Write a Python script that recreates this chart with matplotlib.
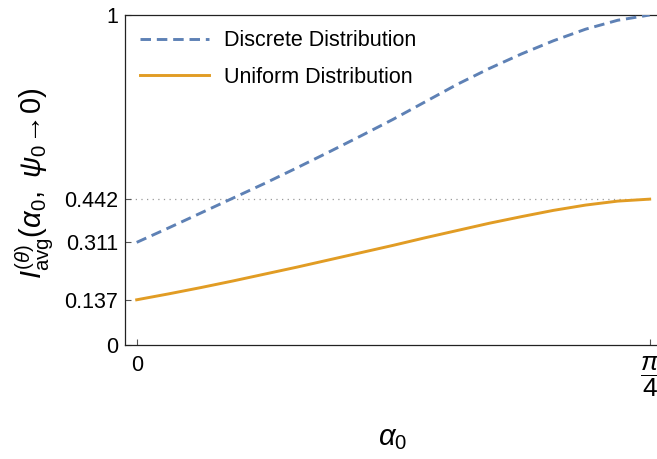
import numpy as np
import matplotlib
matplotlib.use("Agg")
import matplotlib.pyplot as plt

plt.rcParams['font.family'] = ['Liberation Sans', 'DejaVu Sans']
plt.rcParams['mathtext.fontset'] = 'custom'
plt.rcParams['mathtext.rm'] = 'Liberation Sans'
plt.rcParams['mathtext.it'] = 'Liberation Sans:italic'
plt.rcParams['mathtext.bf'] = 'Liberation Sans:bold'

alpha0 = np.arange(17) * np.pi / 64
discrete = [0.311, 0.355, 0.400, 0.445, 0.490, 0.537, 0.585, 0.634, 0.684,
            0.737, 0.790, 0.838, 0.882, 0.922, 0.957, 0.984, 1.000]
uniform = [0.137, 0.155, 0.174, 0.194, 0.215, 0.236, 0.258, 0.280, 0.302,
           0.325, 0.347, 0.369, 0.389, 0.408, 0.424, 0.436, 0.442]

yticks = [0, 0.137, 0.311, 0.442, 1]
ytick_labels = ['0', '0.137', '0.311', '0.442', '1']
xticks = [0, np.pi / 4]
xtick_labels = ['0', r'$\dfrac{\pi}{4}$']
ref_level = 0.442

blue = '#5E81B5'
orange = '#E19C24'

fig = plt.figure(figsize=(6.57, 4.59), dpi=100)
ax = fig.add_axes([125 / 657, 114 / 459, 535 / 657, 330 / 459])

ax.plot([-0.02, np.pi / 4], [ref_level, ref_level], color='#999999', lw=0.9,
        linestyle=(0, (1, 3.5)), zorder=1)
ax.plot(alpha0, discrete, color=blue, lw=2.1, dashes=(3.6, 2.0),
        label='Discrete Distribution', zorder=3)
ax.plot(alpha0, uniform, color=orange, lw=2.1, label='Uniform Distribution', zorder=3)

ax.set_xlim(-0.0179, 0.8012)
ax.set_ylim(0, 1)
ax.set_xticks(xticks)
ax.set_xticklabels(xtick_labels)
ax.set_yticks(yticks)
ax.set_yticklabels(ytick_labels)
ax.tick_params(axis='both', direction='in', length=4, width=0.8, labelsize=15.5,
               color='#555555')
ax.tick_params(axis='x', pad=7)
ax.tick_params(axis='y', pad=5)
ax.get_xticklabels()[1].set_fontsize(19)
for s in ax.spines.values():
    s.set_linewidth(0.9)
    s.set_color('#222222')

ax.set_ylabel(r'$I^{(\theta)}_{\mathrm{avg}}(\alpha_0,\ \psi_0\!\rightarrow\!0)$', fontsize=21)
ax.yaxis.label.set_verticalalignment('center')
ax.yaxis.set_label_coords(-0.168, 0.49)
ax.set_xlabel(r'$\alpha_0$', fontsize=21)
ax.xaxis.set_label_coords(0.5, -0.24)

leg = ax.legend(loc='upper left', frameon=False, fontsize=15.5, handlelength=3.2,
                handletextpad=0.72, labelspacing=0.72, borderaxespad=0.3,
                bbox_to_anchor=(0.0, 1.0))

fig.savefig('out.png', dpi=100)
